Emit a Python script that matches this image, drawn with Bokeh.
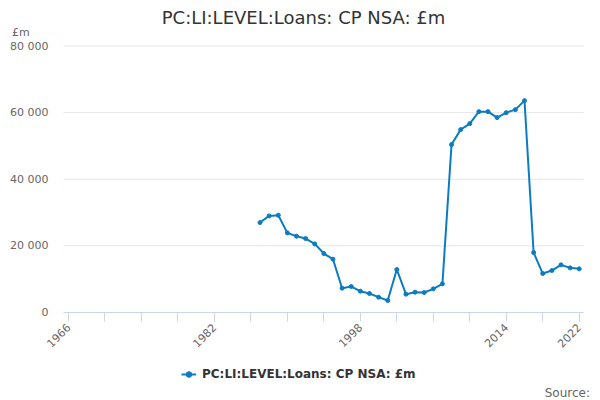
from bokeh.plotting import figure
from bokeh.models import (Range1d, FixedTicker, Legend, LegendItem, Label, LinearAxis)
from bokeh.embed import file_html
from bokeh.resources import INLINE

# ---------------- data ----------------
years = list(range(1987, 2023))
values = [27000, 29000, 29200, 23900, 22900, 22200, 20600, 17700, 16000, 7300,
          7800, 6400, 5700, 4600, 3600, 12900, 5500, 6100, 6000, 7100,
          8600, 50400, 54900, 56700, 60300, 60300, 58500, 60000, 60900, 63600,
          18000, 11700, 12600, 14300, 13400, 13100]
series_name = "PC:LI:LEVEL:Loans: CP NSA: £m"
title_text = "PC:LI:LEVEL:Loans: CP NSA: £m"
unit_text = "£m"
source_text = "Source:"
x_ticks = list(range(1966, 2023, 4))
x_label_years = [1966, 1982, 1998, 2014, 2022]
y_ticks = [0, 20000, 40000, 60000, 80000]

# ---------------- geometry (pixels) ----------------
W, H = 600, 400
PX_PER_YEAR = 9.12
X0_YEAR, X0_PX = 1966, 68.0
Y_TOP_PX, Y_ZERO_PX, Y_MAX = 45.5, 312.0, 80000
PLOT_LEFT, PLOT_RIGHT = 63.0, 583.3

def xdata(px):
    return X0_YEAR + (px - X0_PX) / PX_PER_YEAR

units_per_px = Y_MAX / (Y_ZERO_PX - Y_TOP_PX)
y_start = -(H - Y_ZERO_PX) * units_per_px
y_end = Y_MAX + Y_TOP_PX * units_per_px

FONT = "DejaVu Sans"
BLUE = "#0b7cc2"

p = figure(width=W, height=H, output_backend="svg", toolbar_location=None,
           x_range=Range1d(xdata(0), xdata(W)), y_range=Range1d(y_start, y_end),
           x_axis_location=None, y_axis_location=None,
           min_border_left=0, min_border_right=0, min_border_top=0, min_border_bottom=0)
p.outline_line_color = None
p.background_fill_color = "white"
p.border_fill_color = "white"
p.xgrid.grid_line_color = None
p.ygrid.grid_line_color = None

# horizontal grid lines across the plot area
p.segment(x0=[xdata(PLOT_LEFT)] * len(y_ticks), x1=[xdata(PLOT_RIGHT)] * len(y_ticks),
          y0=y_ticks, y1=y_ticks, line_color="#e6e6e6", line_width=1)

line = p.line(years, values, line_color=BLUE, line_width=2)
pts = p.scatter(years, values, size=4, fill_color=BLUE, line_color=BLUE)

# x axis at y = 0
xa = LinearAxis(fixed_location=0, ticker=FixedTicker(ticks=x_ticks),
                bounds=(xdata(PLOT_LEFT), xdata(PLOT_RIGHT)))
xa.major_label_overrides = {t: (str(t) if t in x_label_years else "") for t in x_ticks}
xa.major_label_orientation = 0.785398
xa.major_label_text_font = FONT
xa.major_label_text_font_size = "11px"
xa.major_label_text_color = "#666666"
xa.axis_line_color = "#ccd6eb"
xa.major_tick_line_color = "#ccd6eb"
xa.major_tick_out = 9
xa.major_tick_in = 0
xa.minor_tick_line_color = None
xa.major_label_standoff = 4
p.add_layout(xa, "below")

# y axis labels at plot-area left edge
ya = LinearAxis(fixed_location=xdata(PLOT_LEFT), ticker=FixedTicker(ticks=y_ticks),
                bounds=(0, Y_MAX))
ya.major_label_overrides = {t: f"{t:,}".replace(",", " ") for t in y_ticks}
ya.major_label_text_font = FONT
ya.major_label_text_font_size = "11px"
ya.major_label_text_color = "#666666"
ya.axis_line_color = None
ya.major_tick_line_color = None
ya.major_tick_out = 0
ya.major_tick_in = 0
ya.minor_tick_line_color = None
ya.major_label_standoff = 15
p.add_layout(ya, "left")

legend = Legend(items=[LegendItem(label=series_name, renderers=[line, pts])],
                orientation="horizontal", location=(181, 19),
                label_text_font=FONT, label_text_font_size="12px",
                label_text_font_style="bold", label_text_color="#333333",
                border_line_color=None, background_fill_alpha=0,
                glyph_width=15, glyph_height=14, label_height=14,
                label_standoff=6, margin=0, padding=0)
p.add_layout(legend, "center")

p.add_layout(Label(x=303, y=H - 17, x_units="screen", y_units="screen", text=title_text,
                   text_font=FONT, text_font_size="18px", text_color="#333333",
                   text_baseline="middle", text_align="center"))
p.add_layout(Label(x=11.5, y=H - 32, x_units="screen", y_units="screen", text=unit_text,
                   text_font=FONT, text_font_size="11px", text_color="#666666",
                   text_baseline="middle", text_align="left"))
p.add_layout(Label(x=589.5, y=H - 392.5, x_units="screen", y_units="screen", text=source_text,
                   text_font=FONT, text_font_size="12px", text_color="#666666",
                   text_baseline="middle", text_align="right"))

open("out.html", "w").write(file_html(p, INLINE))
